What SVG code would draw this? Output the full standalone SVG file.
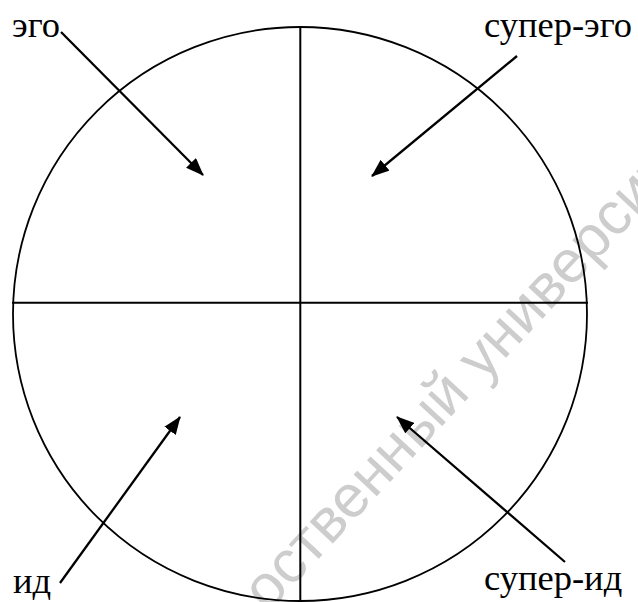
<svg xmlns="http://www.w3.org/2000/svg" width="638" height="602" viewBox="0 0 638 602">
<style>
.shape{fill:none;stroke:#000;stroke-width:1.8}
.axis{fill:none;stroke:#000;stroke-width:2}
.arrow{fill:none;stroke:#000;stroke-width:2.3;marker-end:url(#ah)}
.lbl{font-family:"Liberation Serif","Times New Roman",serif;font-size:36.5px;fill:#000}
.wm{font-family:"Liberation Sans",Arial,sans-serif;font-size:60px;fill:#cdcdcd}
</style>
<defs>
<marker id="ah" viewBox="0 0 18 14" refX="17" refY="7" markerWidth="18" markerHeight="14" markerUnits="userSpaceOnUse" orient="auto">
<path d="M0,0 L18,7 L0,14 z" fill="#000"/>
</marker>
</defs>
<rect width="638" height="602" fill="#fff"/>
<g id="watermark">
<text class="wm" transform="translate(268,613) rotate(-47)">оственный университет</text>
</g>
<g id="circle">
<circle class="shape" cx="300" cy="314" r="287"/>
<line class="axis" x1="300.3" y1="27.5" x2="300.3" y2="602"/>
<line class="axis" x1="12" y1="302.7" x2="588" y2="302.7"/>
</g>
<g id="connectors">
<line class="arrow" x1="61" y1="32" x2="203" y2="175"/>
<line class="arrow" x1="517" y1="56" x2="372" y2="176"/>
<line class="arrow" x1="60" y1="583" x2="180" y2="417"/>
<line class="arrow" x1="565" y1="562" x2="397" y2="417"/>
</g>
<g id="ego"><text class="lbl" x="12" y="37">эго</text></g>
<g id="superego"><text class="lbl" x="484" y="37">супер-эго</text></g>
<g id="id"><text class="lbl" x="13" y="593">ид</text></g>
<g id="superid"><text class="lbl" x="484" y="590">супер-ид</text></g>
</svg>
